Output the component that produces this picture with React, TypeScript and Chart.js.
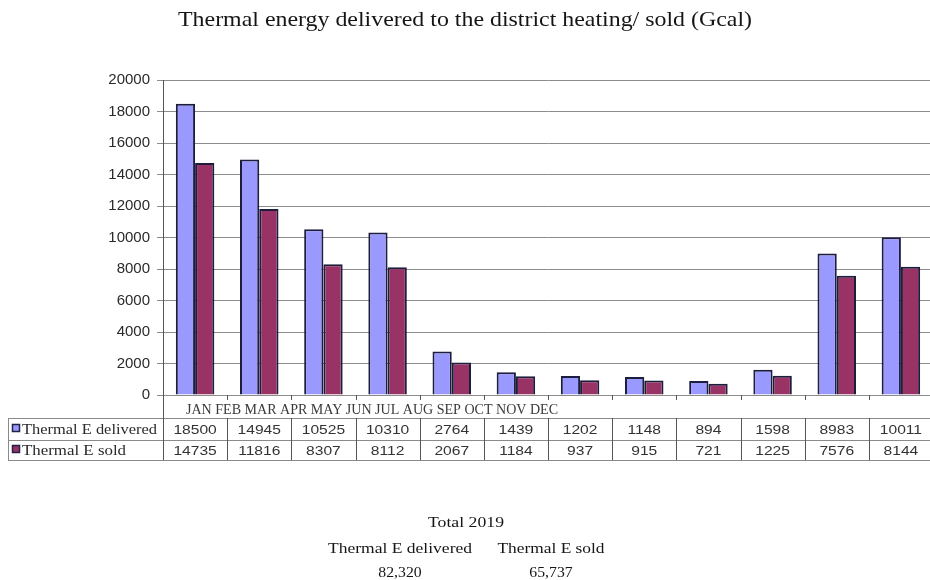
import { useEffect, useRef } from 'react';
import { Chart, registerables } from 'chart.js';

Chart.register(...registerables);

// Monthly thermal energy (Gcal), 2019
const months = ['JAN', 'FEB', 'MAR', 'APR', 'MAY', 'JUN', 'JUL', 'AUG', 'SEP', 'OCT', 'NOV', 'DEC'];
const delivered = [18500, 14945, 10525, 10310, 2764, 1439, 1202, 1148, 894, 1598, 8983, 10011];
const sold = [14735, 11816, 8307, 8112, 2067, 1184, 937, 915, 721, 1225, 7576, 8144];
const seriesNames = ['Thermal E delivered', 'Thermal E sold'];
const titleText = 'Thermal energy delivered to the district heating/ sold (Gcal)';
const totalsHeading = 'Total 2019';
const totalsValues = ['82,320', '65,737'];
const yMin = 0;
const yMax = 20000;
const yStep = 2000;

const DELIVERED_COLOR = '#9999ff';
const SOLD_COLOR = '#993366';
const BAR_EDGE = '#1d1d3d';
const SERIF = '"Liberation Serif", "Times New Roman", serif';
const SANS = '"Liberation Sans", Arial, sans-serif';

const CANVAS_W = 936;
const CANVAS_H = 580;

// Draws text centred (or left-aligned) at x, stretched horizontally to a given width
function drawFitted(
  ctx: CanvasRenderingContext2D,
  text: string,
  x: number,
  y: number,
  width: number,
  align: 'center' | 'left'
) {
  const natural = ctx.measureText(text).width;
  const sx = width / natural;
  ctx.save();
  ctx.translate(x, y);
  ctx.scale(sx, 1);
  ctx.textAlign = align;
  ctx.fillText(text, 0, 0);
  ctx.restore();
}

// Title, month strip, data table beneath the plot and the yearly totals
const tablePlugin = {
  id: 'dataTable',
  afterDraw(chart: any) {
    const { ctx, chartArea } = chart;
    const xs = chart.scales.x;
    const left = chartArea.left;
    const right = chartArea.right;
    const bottom = chartArea.bottom;
    const colW = (right - left) / months.length;

    ctx.save();
    ctx.textBaseline = 'alphabetic';

    // title
    ctx.fillStyle = '#151515';
    ctx.font = `22px ${SERIF}`;
    drawFitted(ctx, titleText, 465, 26, 574, 'center');

    // small ticks under the zero line at category boundaries
    ctx.strokeStyle = '#555';
    ctx.lineWidth = 1;
    ctx.beginPath();
    for (let i = 0; i <= months.length; i++) {
      const px = Math.round(left + i * colW) + 0.5;
      ctx.moveTo(px, bottom);
      ctx.lineTo(px, bottom + 5);
    }
    ctx.stroke();

    // table geometry
    const rowTop = 418;
    const rowMid = 440;
    const rowBot = 460;
    const tableLeft = 8;

    // month strip
    ctx.fillStyle = '#3a3a3a';
    ctx.font = `14px ${SERIF}`;
    drawFitted(ctx, months.join(' '), 186, 414, 372, 'left');

    // grid lines of the table
    ctx.strokeStyle = '#8a8a8a';
    ctx.beginPath();
    [rowTop, rowMid, rowBot].forEach((yy) => {
      ctx.moveTo(tableLeft, yy + 0.5);
      ctx.lineTo(CANVAS_W, yy + 0.5);
    });
    ctx.moveTo(tableLeft + 0.5, rowTop);
    ctx.lineTo(tableLeft + 0.5, rowBot);
    ctx.stroke();

    ctx.strokeStyle = '#555';
    ctx.beginPath();
    ctx.moveTo(Math.round(left) + 0.5, bottom);
    ctx.lineTo(Math.round(left) + 0.5, rowBot);
    for (let i = 1; i < months.length; i++) {
      const px = Math.round(left + i * colW) + 0.5;
      ctx.moveTo(px, rowTop);
      ctx.lineTo(px, rowBot);
    }
    ctx.stroke();

    // legend keys and series names
    const rows = [
      { name: seriesNames[0], color: DELIVERED_COLOR, values: delivered, y: 434 },
      { name: seriesNames[1], color: SOLD_COLOR, values: sold, y: 455 },
    ];
    rows.forEach((r) => {
      ctx.fillStyle = r.color;
      ctx.fillRect(12, r.y - 10, 8, 8);
      ctx.strokeStyle = '#222244';
      ctx.lineWidth = 1.5;
      ctx.strokeRect(12.5, r.y - 9.5, 7, 7);

      ctx.fillStyle = '#2a2a2a';
      ctx.font = `15px ${SERIF}`;
      drawFitted(ctx, r.name, 22, r.y, r.name.length > 15 ? 135 : 104, 'left');

      ctx.fillStyle = '#333';
      ctx.font = `13px ${SANS}`;
      r.values.forEach((v: number, i: number) => {
        const s = String(v);
        const cx = xs.getPixelForValue(i);
        const w = ctx.measureText(s).width * 1.2;
        drawFitted(ctx, s, cx, r.y, w, 'center');
      });
    });

    // totals for the year
    ctx.fillStyle = '#151515';
    ctx.font = `15px ${SERIF}`;
    drawFitted(ctx, totalsHeading, 466, 527, 76, 'center');
    drawFitted(ctx, seriesNames[0], 400, 553, 144, 'center');
    drawFitted(ctx, seriesNames[1], 551, 553, 107, 'center');
    totalsValues.forEach((t, i) => {
      drawFitted(ctx, t, i === 0 ? 400 : 551, 577, ctx.measureText(t).width * 1.05, 'center');
    });

    ctx.restore();
  },
};

export default function App() {
  const canvasRef = useRef<HTMLCanvasElement | null>(null);

  useEffect(() => {
    const canvas = canvasRef.current;
    if (!canvas) return;
    const chart = new Chart(canvas, {
      type: 'bar',
      data: {
        labels: months,
        datasets: [
          {
            label: seriesNames[0],
            data: delivered,
            backgroundColor: DELIVERED_COLOR,
            borderColor: BAR_EDGE,
            borderWidth: 2,
            categoryPercentage: 0.6,
            barPercentage: 1.0,
          },
          {
            label: seriesNames[1],
            data: sold,
            backgroundColor: SOLD_COLOR,
            borderColor: BAR_EDGE,
            borderWidth: 2,
            categoryPercentage: 0.6,
            barPercentage: 1.0,
          },
        ],
      },
      options: {
        responsive: false,
        animation: false,
        devicePixelRatio: 1,
        layout: { padding: { left: 0, right: 3, top: 80, bottom: 185 } },
        plugins: {
          legend: { display: false },
          title: { display: false },
          tooltip: { enabled: false },
        },
        scales: {
          x: { display: false },
          y: {
            min: yMin,
            max: yMax,
            afterFit: (scale: any) => {
              scale.width = 163;
            },
            ticks: {
              stepSize: yStep,
              padding: 7,
              color: '#2a2a2a',
              font: { family: SANS, size: 15 },
              callback: (value: any) => String(value),
            },
            grid: {
              color: '#8c8c8c',
              lineWidth: 1,
              tickLength: 6,
            },
            border: { color: '#555', width: 1 },
          },
        },
      },
      plugins: [tablePlugin],
    });
    return () => chart.destroy();
  }, []);

  return (
    <div
      style={{
        position: 'absolute',
        left: 0,
        top: 0,
        width: 930,
        height: 580,
        overflow: 'hidden',
        background: '#fff',
      }}
    >
      <canvas ref={canvasRef} width={CANVAS_W} height={CANVAS_H} style={{ display: 'block' }} />
    </div>
  );
}
